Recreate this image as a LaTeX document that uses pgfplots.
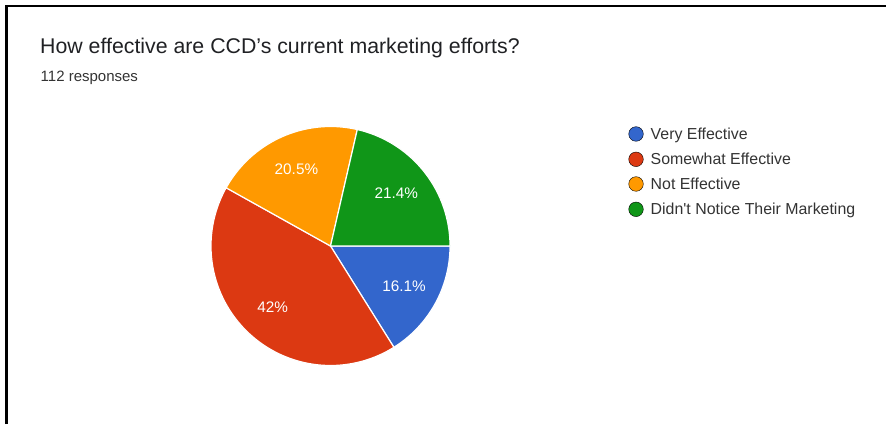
\documentclass[border=0pt]{standalone}
\usepackage{pgfplots}
\pgfplotsset{compat=1.18}
\usepackage{fontspec}
\setmainfont{Liberation Sans}
\definecolor{cblue}{HTML}{3366CC}
\definecolor{cred}{HTML}{DC3912}
\definecolor{corange}{HTML}{FF9900}
\definecolor{cgreen}{HTML}{109618}
\definecolor{txt}{HTML}{202124}
\definecolor{sub}{HTML}{333333}
\begin{document}
\begin{tikzpicture}[x=1bp,y=1bp]
\useasboundingbox (0,0) rectangle (886,424);
% data (percent of 112 responses)
\def\pA{16.1}% Very Effective
\def\pB{42}% Somewhat Effective
\def\pC{20.5}% Not Effective
\def\pD{21.4}% Didn't Notice Their Marketing
\def\cx{330.5}\def\cy{178}\def\R{119.5}\def\lr{84}
\pgfmathsetmacro{\aA}{0}
\pgfmathsetmacro{\aB}{\aA-3.6*\pA}
\pgfmathsetmacro{\aC}{\aB-3.6*\pB}
\pgfmathsetmacro{\aD}{\aC-3.6*\pC}
\pgfmathsetmacro{\aE}{\aD-3.6*\pD}
\pgfmathsetmacro{\mA}{(\aA+\aB)/2}
\pgfmathsetmacro{\mB}{(\aB+\aC)/2}
\pgfmathsetmacro{\mC}{(\aC+\aD)/2}
\pgfmathsetmacro{\mD}{(\aD+\aE)/2}
\begin{axis}[at={(0,0)},anchor=south west,scale only axis,
  width=886bp,height=424bp,xmin=0,xmax=886,ymin=0,ymax=424,
  hide axis,clip=false]
\addplot[draw=white,line width=1.2bp,fill=cblue,domain=\aB:\aA,samples=60,variable=\t]
  ({\cx+\R*cos(\t)},{\cy+\R*sin(\t)}) -- (axis cs:\cx,\cy) -- cycle;
\addplot[draw=white,line width=1.2bp,fill=cred,domain=\aC:\aB,samples=120,variable=\t]
  ({\cx+\R*cos(\t)},{\cy+\R*sin(\t)}) -- (axis cs:\cx,\cy) -- cycle;
\addplot[draw=white,line width=1.2bp,fill=corange,domain=\aD:\aC,samples=60,variable=\t]
  ({\cx+\R*cos(\t)},{\cy+\R*sin(\t)}) -- (axis cs:\cx,\cy) -- cycle;
\addplot[draw=white,line width=1.2bp,fill=cgreen,domain=\aE:\aD,samples=60,variable=\t]
  ({\cx+\R*cos(\t)},{\cy+\R*sin(\t)}) -- (axis cs:\cx,\cy) -- cycle;
% slice labels
\node[text=white,font=\fontsize{15.3bp}{18bp}\selectfont,inner sep=0] at (axis cs:{\cx+\lr*cos(\mA)},{\cy+\lr*sin(\mA)}) {16.1\%};
\node[text=white,font=\fontsize{15.3bp}{18bp}\selectfont,inner sep=0] at (axis cs:{\cx+\lr*cos(\mB)},{\cy+\lr*sin(\mB)}) {42\%};
\node[text=white,font=\fontsize{15.3bp}{18bp}\selectfont,inner sep=0] at (axis cs:{\cx+\lr*cos(\mC)},{\cy+\lr*sin(\mC)}) {20.5\%};
\node[text=white,font=\fontsize{15.3bp}{18bp}\selectfont,inner sep=0] at (axis cs:{\cx+\lr*cos(\mD)},{\cy+\lr*sin(\mD)}) {21.4\%};
% legend
\addplot[only marks,mark=*,mark size=7.3bp,mark options={fill=cblue,draw=none}] coordinates {(636,290)};
\addplot[only marks,mark=*,mark size=7.3bp,mark options={fill=cred,draw=none}] coordinates {(636,264.7)};
\addplot[only marks,mark=*,mark size=7.3bp,mark options={fill=corange,draw=none}] coordinates {(636,240)};
\addplot[only marks,mark=*,mark size=7.3bp,mark options={fill=cgreen,draw=none}] coordinates {(636,214.7)};
\node[anchor=base west,inner sep=0,text=sub,font=\fontsize{15.9bp}{19bp}\selectfont] at (axis cs:650.5,284.7) {Very Effective};
\node[anchor=base west,inner sep=0,text=sub,font=\fontsize{15.9bp}{19bp}\selectfont] at (axis cs:650.5,259.3) {Somewhat Effective};
\node[anchor=base west,inner sep=0,text=sub,font=\fontsize{15.9bp}{19bp}\selectfont] at (axis cs:650.5,234.5) {Not Effective};
\node[anchor=base west,inner sep=0,text=sub,font=\fontsize{15.9bp}{19bp}\selectfont] at (axis cs:650.5,209.3) {Didn\textquotesingle t Notice Their Marketing};
% titles
\node[anchor=base west,inner sep=0,text=txt,font=\fontsize{21.3bp}{25bp}\selectfont] at (axis cs:40,370.7) {How effective are CCD’s current marketing efforts?};
\node[anchor=base west,inner sep=0,text=sub,font=\fontsize{15bp}{18bp}\selectfont] at (axis cs:40.5,342.3) {112 responses};
\end{axis}
\draw[line width=2.5bp,black] (6.5,0) -- (6.5,418) -- (886,418);
\end{tikzpicture}
\end{document}
